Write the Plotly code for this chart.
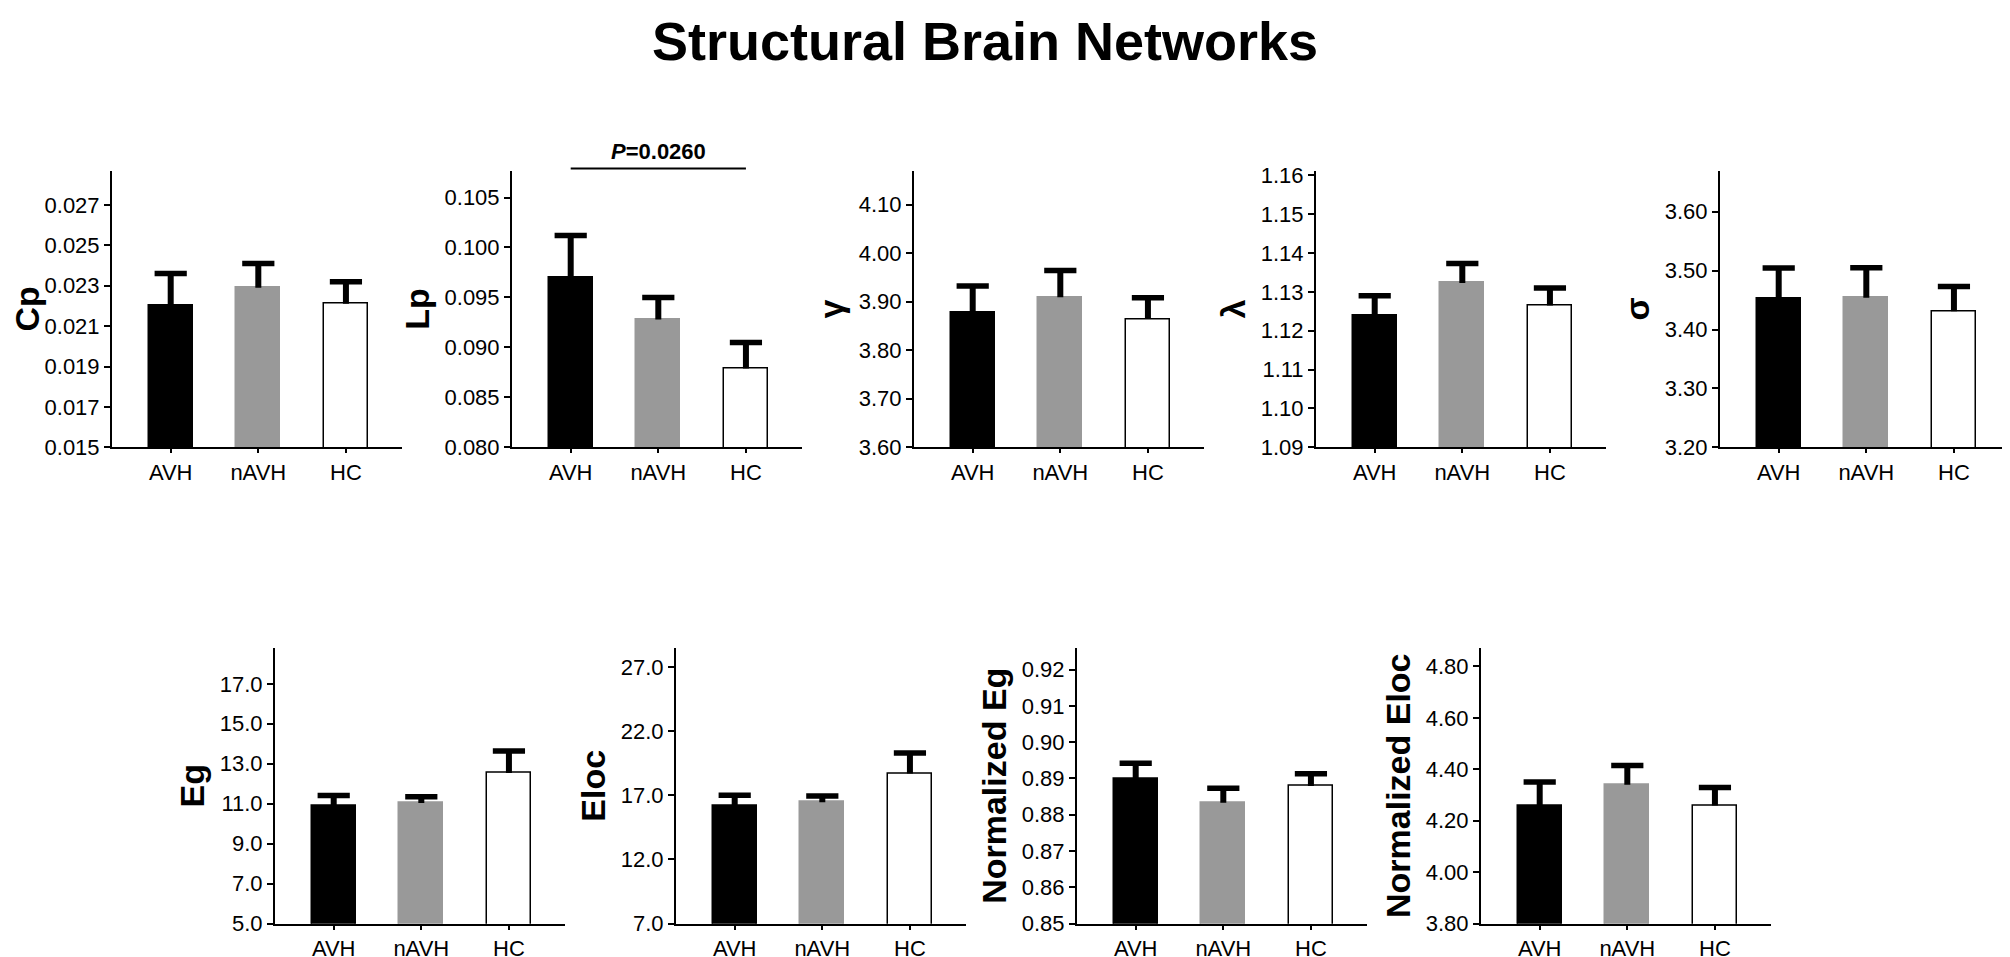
import plotly.graph_objects as go

groups = ["AVH", "nAVH", "HC"]
bar_colors = ["#000000", "#999999", "#ffffff"]
edge_colors = ["#000000", "#999999", "#000000"]

cp_mean = [0.0220, 0.0229, 0.0221]
cp_err = [0.0016, 0.0012, 0.0011]
lp_mean = [0.0970, 0.0928, 0.0879]
lp_err = [0.0042, 0.0022, 0.0026]
gamma_mean = [3.877, 3.909, 3.864]
gamma_err = [0.055, 0.055, 0.044]
lambda_mean = [1.1238, 1.1323, 1.1265]
lambda_err = [0.0052, 0.0050, 0.0045]
sigma_mean = [3.4525, 3.454, 3.431]
sigma_err = [0.052, 0.051, 0.042]
eg_mean = [10.91, 11.03, 12.54]
eg_err = [0.50, 0.32, 1.10]
eloc_mean = [16.22, 16.47, 18.70]
eloc_err = [0.78, 0.48, 1.60]
neg_mean = [0.8899, 0.8833, 0.8879]
neg_err = [0.0043, 0.0040, 0.0034]
neloc_mean = [4.259, 4.340, 4.259]
neloc_err = [0.091, 0.075, 0.070]

labels = ["Cp", "Lp", "γ", "λ", "σ", "Eg", "Eloc", "Normalized Eg", "Normalized Eloc"]
means = [cp_mean, lp_mean, gamma_mean, lambda_mean, sigma_mean,
         eg_mean, eloc_mean, neg_mean, neloc_mean]
errs = [cp_err, lp_err, gamma_err, lambda_err, sigma_err,
        eg_err, eloc_err, neg_err, neloc_err]

# y axis ranges / ticks
y_lo = [0.015, 0.080, 3.60, 1.09, 3.20, 5.0, 7.0, 0.85, 3.80]
y_hi = [0.0287, 0.1077, 4.17, 1.1612, 3.67, 18.8, 28.5, 0.926, 4.872]
y_step = [0.002, 0.005, 0.10, 0.01, 0.10, 2.0, 5.0, 0.01, 0.20]
y_fmt = [".3f", ".3f", ".2f", ".2f", ".2f", ".1f", ".1f", ".2f", ".2f"]

sig_pair = ["AVH", "HC"]
sig_text = "<b><i>P</i>=0.0260</b>"

W, H = 2010, 957
# left edge of each panel (px) and row
left_px = [104, 504, 906, 1308, 1712, 267, 668, 1069, 1473]
row = [0, 0, 0, 0, 0, 1, 1, 1, 1]
panel_w = 290
row_top = [158, 646]
row_bot = [441, 928]

font = "Liberation Sans, Arial, sans-serif"

fig = go.Figure()

for i in range(9):
    n = "" if i == 0 else str(i + 1)
    xa, ya = "x" + n, "y" + n
    fig.add_trace(go.Bar(
        x=groups, y=means[i], width=0.5,
        marker=dict(color=bar_colors, line=dict(color=edge_colors, width=1.5)),
        error_y=dict(type="data", array=errs[i], arrayminus=[0, 0, 0],
                     symmetric=False, color="black", thickness=6, width=0),
        xaxis=xa, yaxis=ya, showlegend=False))
    tops = [m + e for m, e in zip(means[i], errs[i])]
    fig.add_trace(go.Scatter(
        x=groups, y=tops, mode="markers",
        marker=dict(symbol="line-ew", size=23, line=dict(color="black", width=5.5)),
        xaxis=xa, yaxis=ya, showlegend=False, cliponaxis=False))

    r = row[i]
    x0 = left_px[i] / W
    x1 = (left_px[i] + panel_w) / W
    y0 = 1 - row_bot[r] / H
    y1 = 1 - row_top[r] / H
    key = "" if i == 0 else str(i + 1)
    fig.update_layout({
        "xaxis" + key: dict(
            domain=[x0, x1], anchor=ya, range=[-0.67, 2.64],
            showline=True, linecolor="black", linewidth=2,
            ticks="outside", ticklen=4, tickwidth=1.5, tickcolor="black",
            showgrid=False, zeroline=False,
            tickfont=dict(family=font, size=22, color="black")),
        "yaxis" + key: dict(
            domain=[y0, y1], anchor=xa, range=[y_lo[i], y_hi[i]],
            tick0=y_lo[i], dtick=y_step[i], tickformat=y_fmt[i],
            showline=True, linecolor="black", linewidth=2,
            ticks="outside", ticklen=6, tickwidth=1.5, tickcolor="black",
            showgrid=False, zeroline=False,
            tickfont=dict(family=font, size=22, color="black"),
            title=dict(text=labels[i], standoff=5,
                       font=dict(family=font, size=34, color="black", weight="bold"))),
    })

# significance bar on the Lp panel
fig.add_shape(type="line", xref="x2", yref="paper",
              x0=sig_pair[0], x1=sig_pair[1],
              y0=1 - 156 / H, y1=1 - 156 / H,
              line=dict(color="black", width=2))
fig.add_annotation(xref="x2", yref="paper", x=groups[1], y=1 - 153 / H,
                   text=sig_text, showarrow=False, yanchor="bottom",
                   font=dict(family=font, size=22, color="black"))

fig.update_layout(
    width=W, height=H,
    margin=dict(l=0, r=0, t=0, b=0),
    paper_bgcolor="white", plot_bgcolor="white",
    showlegend=False, bargap=0,
    title=dict(text="<b>Structural Brain Networks</b>", x=977 / W, xanchor="center",
               y=1 - 33 / H, yanchor="middle",
               font=dict(family=font, size=54, color="black")),
)

fig.write_html("out.html")
